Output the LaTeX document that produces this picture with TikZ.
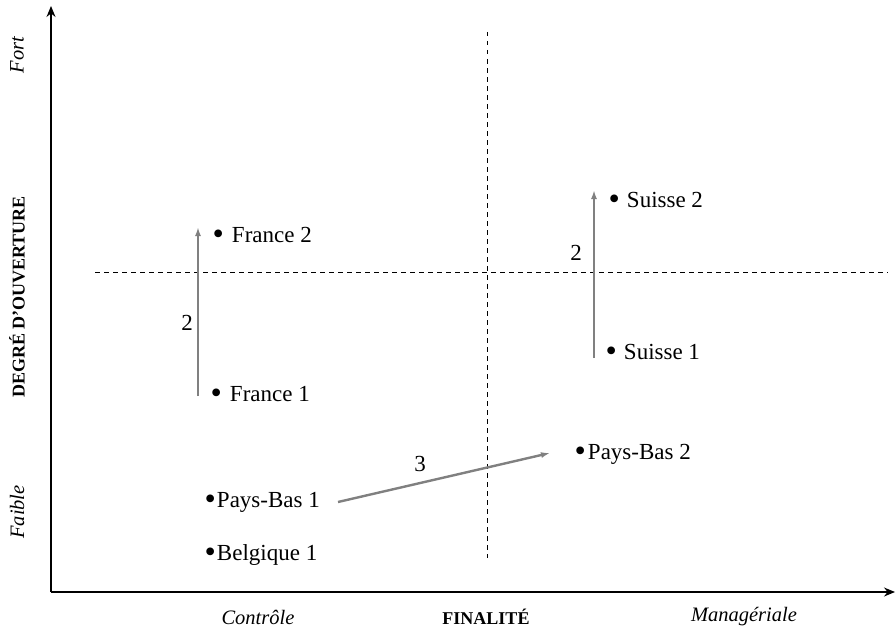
\documentclass[tikz,border=0pt]{standalone}
\usepackage{fontspec}
\setmainfont{Liberation Serif}
\usetikzlibrary{arrows.meta}
\newcommand{\mybul}{\raisebox{-2.6pt}{\scalebox{1.4}{•}}}
\begin{document}
\begin{tikzpicture}[x=1pt,y=-1pt,
  lbl/.style={inner sep=0pt, font=\fontsize{23}{27}\selectfont},
  pt/.style={lbl, anchor=base west},
  axlbl/.style={inner sep=0pt, font=\fontsize{18}{22}\selectfont\bfseries},
  itlbl/.style={inner sep=0pt, font=\fontsize{20.5}{24}\selectfont\itshape},
  axis/.style={line width=1.3pt, -{Stealth[length=11pt,width=9pt]}},
  mv/.style={draw=gray, line width=2.4pt, -{Latex[length=9pt,width=6pt]}},
  sep/.style={line width=0.9pt, dash pattern=on 4.5pt off 4.5pt}]
\useasboundingbox (0,0) rectangle (896,634);
% axes
\coordinate (O) at (51,592);
\coordinate (Ytop) at (51,6);
\coordinate (Xend) at (895,592);
\draw[axis] (O) -- (Ytop);
\draw[axis] (O) -- (Xend);
% separators
\coordinate (v1) at (487,32);
\coordinate (v2) at (487,558);
\coordinate (h1) at (95,272);
\coordinate (h2) at (888,272);
\draw[sep] (v1) -- (v2);
\draw[sep] (h1) -- (h2);
% points
\node[pt] (fr2) at (212.5,242) {\mybul\hspace{8pt}France 2};
\node[pt] (fr1) at (210.5,401) {\mybul\hspace{8pt}France 1};
\node[pt] (su2) at (608.5,207) {\mybul\hspace{7pt}Suisse 2};
\node[pt] (su1) at (605.5,359) {\mybul\hspace{7pt}Suisse 1};
\node[pt] (pb2) at (574.5,459) {\mybul\hspace{2pt}Pays-Bas 2};
\node[pt] (pb1) at (204.5,507) {\mybul\hspace{1pt}Pays-Bas 1};
\node[pt] (be1) at (204.5,560) {\mybul\hspace{1pt}Belgique 1};
% movements
\coordinate (fa) at (198,396);
\coordinate (fb) at (198,227);
\coordinate (sa) at (594,358);
\coordinate (sb) at (594,190);
\coordinate (pa) at (338,502);
\coordinate (pb) at (550,453);
\draw[mv] (fa) -- (fb);
\draw[mv] (sa) -- (sb);
\draw[mv] (pa) -- (pb);
\node[lbl] (n1) at (187,323) {2};
\node[lbl] (n2) at (576,253) {2};
\node[lbl] (n3) at (420,464) {3};
% axis labels
\node[itlbl, rotate=90] (fort) at (17,55) {Fort};
\node[axlbl, rotate=90] (deg) at (17,297) {DEGRÉ D’OUVERTURE};
\node[itlbl, rotate=90] (faible) at (17,512) {Faible};
\node[itlbl] (ctrl) at (258,617) {Contrôle};
\node[axlbl] (fin) at (486,617) {FINALITÉ};
\node[itlbl] (man) at (744,617) {Managériale};
\end{tikzpicture}
\end{document}
